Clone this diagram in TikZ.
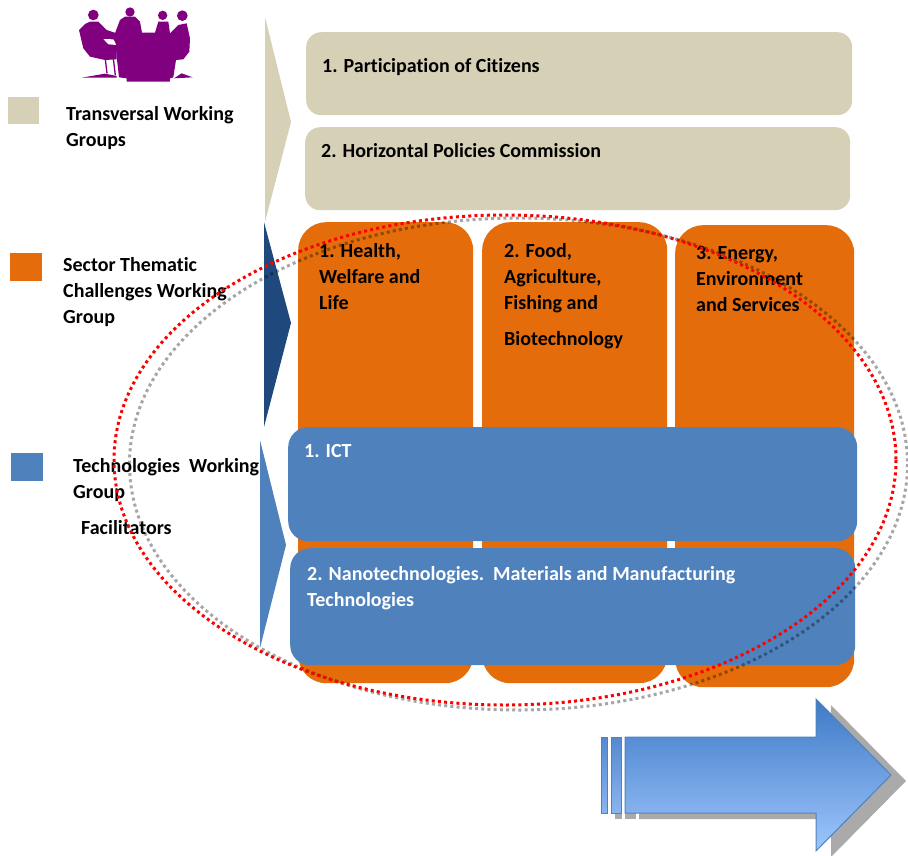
\documentclass[tikz,border=0pt]{standalone}
\usepackage{tikz}
\usepackage{fontspec}
\setmainfont[Ligatures=NoCommon]{Carlito}
\usetikzlibrary{shapes.geometric}
\definecolor{tanfill}{RGB}{214,208,182}
\definecolor{orangefill}{RGB}{228,108,10}
\definecolor{bluefill}{RGB}{79,129,189}
\definecolor{navyfill}{RGB}{31,73,125}
\definecolor{purplefill}{RGB}{128,0,128}
\definecolor{shadowgrey}{RGB}{170,170,170}
\definecolor{arrowtop}{RGB}{62,122,198}
\definecolor{arrowbottom}{RGB}{158,198,252}
\definecolor{barmid}{RGB}{85,137,208}
\definecolor{barlow}{RGB}{138,180,240}
\tikzset{
  x=1pt, y=-1pt,
  legend/.style={draw=none, inner sep=0pt, minimum width=#1, anchor=north west},
  panel/.style={rounded corners=#1, inner sep=0pt, anchor=north west},
  boxtext/.style={anchor=north west, inner sep=0pt, align=left, font=\fontsize{20}{26}\selectfont\bfseries},
  dotline/.style={line width=3pt, dash pattern=on 3pt off 3.2pt}
}
\begin{document}
\begin{tikzpicture}
    \useasboundingbox (0,0) rectangle (908,855);
    % people round the table
    \begin{scope}[shift={(70,0)}, x=0.3333pt, y=-0.3333pt, purplefill]
        \fill (70,45) circle (16);
        \fill (180,36) circle (14);
        \fill (278,46) circle (14);
        \fill (337,47) circle (16);
        \fill (27,90) -- (45,72) -- (60,65) -- (85,65) -- (110,90) -- (125,95) -- (140,100) -- (140,178) -- (105,180) -- (60,170) -- (40,145) -- cycle;
        \fill[white] (100,117) -- (130,118) -- (140,135) -- (115,133) -- cycle;
        \draw[line width=1.3pt] (106,178) -- (111,220) (130,175) -- (136,226);
        \fill (35,233) -- (105,221) -- (140,228) -- (140,233) -- cycle;
        \fill (135,100) -- (150,60) -- (165,50) -- (195,50) -- (210,65) -- (216,98) -- (255,98) -- (265,65) -- (295,65) -- (300,100) -- (325,75) -- (350,70) -- (360,115) -- (358,155) -- (340,178) -- (318,180) -- (310,232) -- (300,235) -- (300,245) -- (170,245) -- (170,235) -- (147,232) -- (140,170) -- cycle;
        \fill (312,235) -- (335,220) -- (368,232) -- cycle;
    \end{scope}
    % legend
    \node[legend=31pt, fill=tanfill, minimum height=27pt] (legendtan) at (8,97) {};
    \node[legend=32pt, fill=orangefill, minimum height=28pt] (legendorange) at (10,253) {};
    \node[legend=32pt, fill=bluefill, minimum height=28pt] (legendblue) at (11,453) {};
    \node[boxtext] (transversal) at (66,106.5) {Transversal Working\\Groups};
    \node[boxtext] (sector) at (63,257.5) {Sector Thematic\\Challenges Working\\Group};
    \node[boxtext] (technologies) at (73,458.5) {Technologies\ \ Working\\Group};
    \node[boxtext] (facilitators) at (81,520.5) {Facilitators};
    % chevrons
    \fill[tanfill] (265,17) -- (291,122) -- (265,222) -- cycle;
    \fill[navyfill] (264,222) -- (291,323) -- (264,427) -- cycle;
    \fill[bluefill] (260,440) -- (286,545) -- (260,648) -- cycle;
    % panels
    \node[panel=15pt, fill=tanfill, minimum width=546pt, minimum height=83pt] (citizens) at (306,32) {};
    \node[panel=15pt, fill=tanfill, minimum width=545pt, minimum height=83pt] (policies) at (305,127) {};
    \node[panel=28pt, fill=orangefill, minimum width=175pt, minimum height=461pt] (health) at (298,222) {};
    \node[panel=28pt, fill=orangefill, minimum width=185pt, minimum height=461pt] (food) at (482,222) {};
    \node[panel=28pt, fill=orangefill, minimum width=179pt, minimum height=462pt] (energy) at (675,225) {};
    \node[panel=20pt, fill=bluefill, minimum width=569pt, minimum height=114pt] (ict) at (288,427) {};
    \node[panel=20pt, fill=bluefill, minimum width=565pt, minimum height=117pt] (nano) at (290,548) {};
    \node[boxtext] (citizenstext) at (322,58.5) {1. Participation of Citizens};
    \node[boxtext] (policiestext) at (321,143.5) {2. Horizontal Policies Commission};
    \node[boxtext] (healthtext) at (319,243.5) {1. Health,\\Welfare and\\Life};
    \node[boxtext] (foodtext) at (504,243.5) {2. Food,\\Agriculture,\\Fishing and\\[10pt]Biotechnology};
    \node[boxtext] (energytext) at (696,246.5) {3. Energy,\\Environment\\and Services};
    \node[boxtext, text=white] (icttext) at (304,444.5) {1. ICT};
    \node[boxtext, text=white] (nanotext) at (307,566.5) {2. Nanotechnologies.\ \ Materials and Manufacturing\\Technologies};
    % big arrow
    \fill[shadowgrey] (615,744) rectangle (622,819);
    \fill[shadowgrey] (625,744) rectangle (636,819);
    \fill[shadowgrey] (639,743) -- (831,743) -- (831,705) -- (906,781) -- (831,857) -- (831,819) -- (639,819) -- cycle;
    \draw[bluefill, line width=1pt, top color=barmid, bottom color=barlow] (601.5,737) rectangle (607,813);
    \draw[bluefill, line width=1pt, top color=barmid, bottom color=barlow] (611,737) rectangle (621,813);
    \draw[bluefill, line width=1pt, top color=arrowtop, bottom color=arrowbottom] (625,737) -- (816,737) -- (816,699) -- (891,775) -- (816,851) -- (816,813) -- (625,813) -- cycle;
    % ellipses
    \draw[black, opacity=.35, dotline] (518.5,464) ellipse [x radius=389, y radius=246];
    \draw[red, dotline] (505,460) ellipse [x radius=391, y radius=245];
\end{tikzpicture}
\end{document}
